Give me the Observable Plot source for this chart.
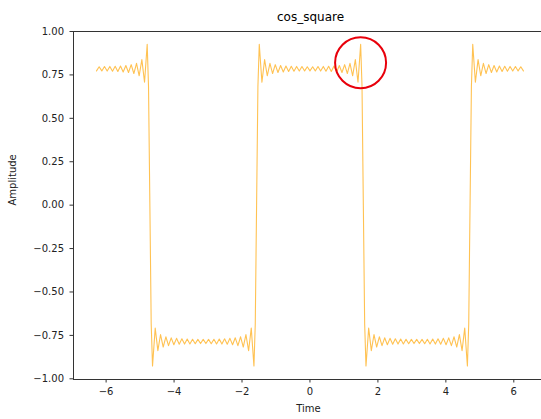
<!DOCTYPE html>
<html>
<head>
<meta charset="utf-8">
<script src="https://cdn.jsdelivr.net/npm/d3@7"></script>
<script src="https://cdn.jsdelivr.net/npm/@observablehq/plot@0.6"></script>
<style>
  html, body { margin: 0; padding: 0; background: #fff; }
</style>
</head>
<body>
<div id="chart"></div>
<script>
const title = "cos_square";
const xLabel = "Time";
const yLabel = "Amplitude";
const xTicks = [-6, -4, -2, 0, 2, 4, 6];
const yTicks = [-1, -0.75, -0.5, -0.25, 0, 0.25, 0.5, 0.75, 1];

// highlighted overshoot (red circle annotation)
const highlightTime = [1.49];
const highlightAmp = [0.82];

// negative time half (t from -2π to just below 0)
const timeNeg = [-6.283, -6.205, -6.126, -6.048, -5.969, -5.890, -5.812, -5.733, -5.655, -5.576,
  -5.498, -5.419, -5.341, -5.262, -5.184, -5.105, -5.027, -4.948, -4.869, -4.791,
  -4.752, -4.712, -4.673, -4.634, -4.555, -4.477, -4.398, -4.320, -4.241, -4.163,
  -4.084, -4.006, -3.927, -3.848, -3.770, -3.691, -3.613, -3.534, -3.456, -3.377,
  -3.299, -3.220, -3.142, -3.063, -2.985, -2.906, -2.827, -2.749, -2.670, -2.592,
  -2.513, -2.435, -2.356, -2.278, -2.199, -2.121, -2.042, -1.963, -1.885, -1.806,
  -1.728, -1.649, -1.610, -1.571, -1.532, -1.492, -1.414, -1.335, -1.257, -1.178,
  -1.100, -1.021, -0.942, -0.864, -0.785, -0.707, -0.628, -0.550, -0.471, -0.393,
  -0.314, -0.236, -0.157, -0.079];
const ampNeg = [0.773, 0.797, 0.773, 0.798, 0.772, 0.799, 0.771, 0.800, 0.770, 0.801,
  0.767, 0.804, 0.764, 0.809, 0.758, 0.817, 0.745, 0.838, 0.708, 0.926,
  0.685, 0, -0.685, -0.926, -0.708, -0.838, -0.745, -0.817, -0.758, -0.809,
  -0.764, -0.804, -0.767, -0.801, -0.770, -0.800, -0.771, -0.799, -0.772, -0.798,
  -0.773, -0.797, -0.773, -0.797, -0.773, -0.798, -0.772, -0.799, -0.771, -0.800,
  -0.770, -0.801, -0.767, -0.804, -0.764, -0.809, -0.758, -0.817, -0.745, -0.838,
  -0.708, -0.926, -0.685, 0, 0.685, 0.926, 0.708, 0.838, 0.745, 0.817,
  0.758, 0.809, 0.764, 0.804, 0.767, 0.801, 0.770, 0.800, 0.771, 0.799,
  0.772, 0.798, 0.773, 0.797];

// positive time half (t from 0 to 2π)
const timePos = [0.000, 0.079, 0.157, 0.236, 0.314, 0.393, 0.471, 0.550, 0.628, 0.707,
  0.785, 0.864, 0.942, 1.021, 1.100, 1.178, 1.257, 1.335, 1.414, 1.492,
  1.532, 1.571, 1.610, 1.649, 1.728, 1.806, 1.885, 1.963, 2.042, 2.121,
  2.199, 2.278, 2.356, 2.435, 2.513, 2.592, 2.670, 2.749, 2.827, 2.906,
  2.985, 3.063, 3.142, 3.220, 3.299, 3.377, 3.456, 3.534, 3.613, 3.691,
  3.770, 3.848, 3.927, 4.006, 4.084, 4.163, 4.241, 4.320, 4.398, 4.477,
  4.555, 4.634, 4.673, 4.712, 4.752, 4.791, 4.869, 4.948, 5.027, 5.105,
  5.184, 5.262, 5.341, 5.419, 5.498, 5.576, 5.655, 5.733, 5.812, 5.890,
  5.969, 6.048, 6.126, 6.205, 6.283];
const ampPos = [0.773, 0.797, 0.773, 0.798, 0.772, 0.799, 0.771, 0.800, 0.770, 0.801,
  0.767, 0.804, 0.764, 0.809, 0.758, 0.817, 0.745, 0.838, 0.708, 0.926,
  0.685, 0, -0.685, -0.926, -0.708, -0.838, -0.745, -0.817, -0.758, -0.809,
  -0.764, -0.804, -0.767, -0.801, -0.770, -0.800, -0.771, -0.799, -0.772, -0.798,
  -0.773, -0.797, -0.773, -0.797, -0.773, -0.798, -0.772, -0.799, -0.771, -0.800,
  -0.770, -0.801, -0.767, -0.804, -0.764, -0.809, -0.758, -0.817, -0.745, -0.838,
  -0.708, -0.926, -0.685, 0, 0.685, 0.926, 0.708, 0.838, 0.745, 0.817,
  0.758, 0.809, 0.764, 0.804, 0.767, 0.801, 0.770, 0.800, 0.771, 0.799,
  0.772, 0.798, 0.773, 0.797, 0.773];

const data = [
  ...timeNeg.map((t, i) => ({t, a: ampNeg[i]})),
  ...timePos.map((t, i) => ({t, a: ampPos[i]}))
];
const highlight = highlightTime.map((t, i) => ({t, a: highlightAmp[i]}));

const minus = s => s.replace("-", "\u2212");
const fmtY = d => minus(d.toFixed(2));
const fmtX = d => minus(String(d));

const chart = Plot.plot({
  width: 541,
  height: 419,
  marginTop: 31,
  marginBottom: 40,
  marginLeft: 73,
  marginRight: 0,
  style: {fontFamily: "DejaVu Sans", fontSize: "10px", color: "#000", background: "#fff"},
  x: {domain: [-6.96, 6.815]},
  y: {domain: [-1.004, 1.0]},
  marks: [
    Plot.line(data, {x: "t", y: "a", stroke: "#ffa500", strokeOpacity: 0.68, strokeWidth: 1.1}),
    Plot.dot(highlight, {x: "t", y: "a", r: 25.5, stroke: "#e8000b", strokeWidth: 2, fill: "none"}),
    Plot.frame({anchor: "top", stroke: "#333"}),
    Plot.frame({anchor: "left", stroke: "#333"}),
    Plot.frame({anchor: "bottom", stroke: "#333"}),
    Plot.axisX({ticks: xTicks, tickFormat: fmtX, tickSize: 3.5, tickPadding: 5, label: null, stroke: "#333", fill: "#222"}),
    Plot.axisY({ticks: yTicks, tickFormat: fmtY, tickSize: 3.5, tickPadding: 6, label: null, stroke: "#333", fill: "#222"}),
    Plot.text([title], {frameAnchor: "top", dy: -19, dx: 3, fontSize: 12, fill: "#000"}),
    Plot.text([xLabel], {frameAnchor: "bottom", dy: 32, dx: 1, fontSize: 10, fill: "#222"}),
    Plot.text([yLabel], {frameAnchor: "left", dx: -61, rotate: -90, fontSize: 10, fill: "#222"})
  ]
});
document.getElementById("chart").appendChild(chart);
</script>
</body>
</html>
